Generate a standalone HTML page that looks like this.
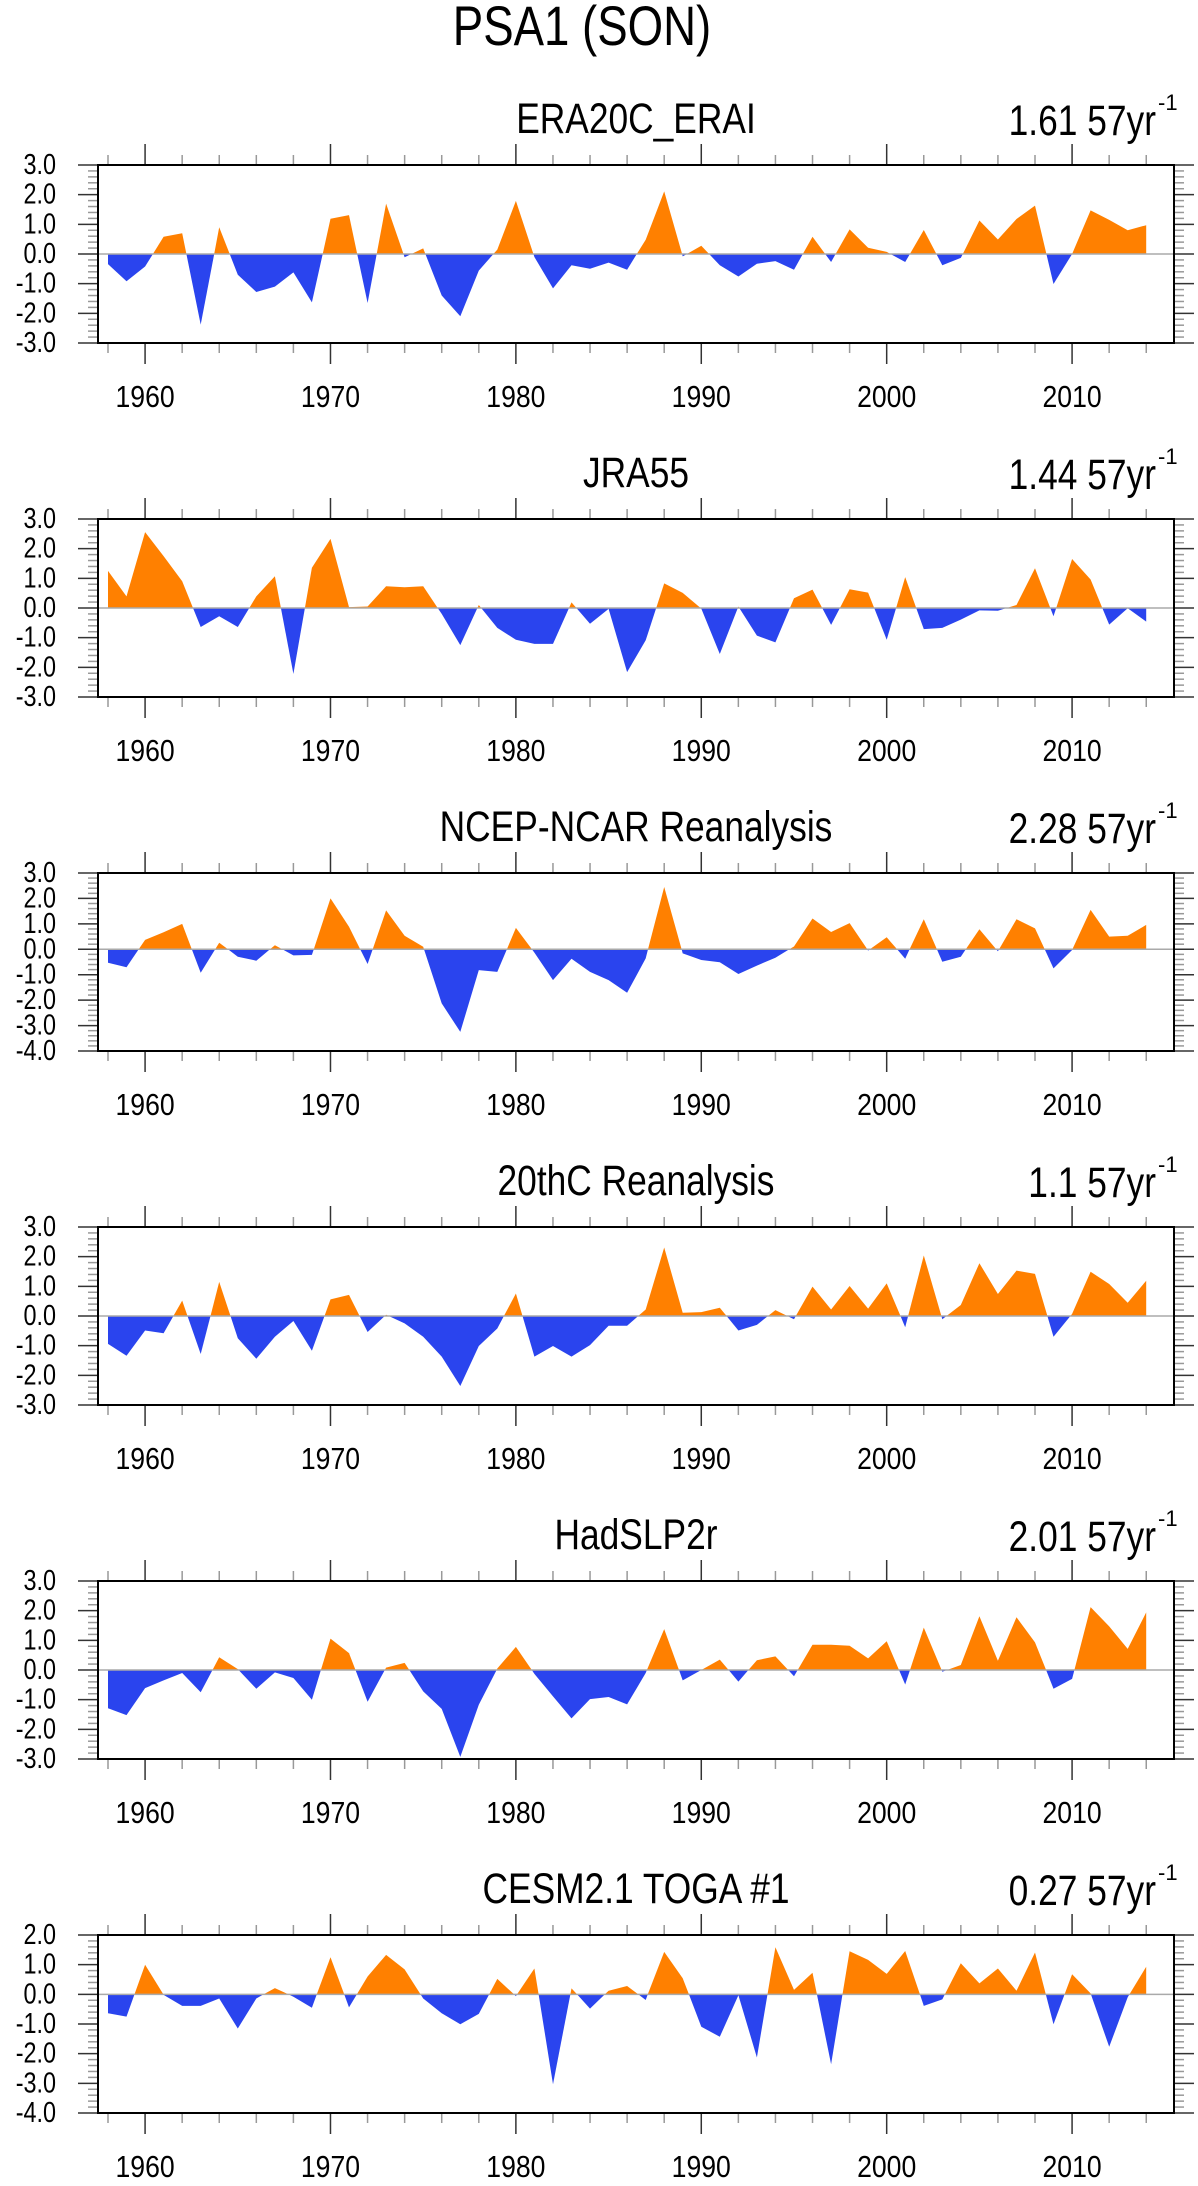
<!DOCTYPE html>
<html><head><meta charset="utf-8"><style>
html,body{margin:0;padding:0;background:#fff;}
svg{display:block;font-family:"Liberation Sans",Arial,sans-serif;}
</style></head><body>
<svg id="fig" width="1198" height="2186" viewBox="0 0 1198 2186" xmlns="http://www.w3.org/2000/svg">
<text x="582" y="45" font-size="48" text-anchor="middle" transform="translate(582,45) scale(0.95,1.15) translate(-582,-45)">PSA1 (SON)</text>
</svg>
<script>
const years = [];
for (let y = 1958; y <= 2014; y++) years.push(y);
const panelTitles = ["ERA20C_ERAI","JRA55","NCEP-NCAR Reanalysis","20thC Reanalysis","HadSLP2r","CESM2.1 TOGA #1"];
const trendLabels = ["1.61 57yr","1.44 57yr","2.28 57yr","1.1 57yr","2.01 57yr","0.27 57yr"];
const yMinVals = [-3,-3,-4,-3,-3,-4];
const yMaxVals = [3,3,3,3,3,2];
const yearTicks = [1960,1970,1980,1990,2000,2010];
const era20c = [-0.34,-0.92,-0.42,0.58,0.7,-2.38,0.9,-0.7,-1.28,-1.1,-0.62,-1.63,1.19,1.31,-1.65,1.7,-0.11,0.19,-1.4,-2.1,-0.56,0.15,1.79,-0.1,-1.16,-0.38,-0.5,-0.29,-0.53,0.48,2.11,-0.08,0.28,-0.38,-0.76,-0.33,-0.24,-0.53,0.58,-0.27,0.83,0.21,0.07,-0.27,0.81,-0.38,-0.13,1.13,0.49,1.18,1.63,-1.01,0.0,1.47,1.15,0.8,0.97];
const jra55 = [1.25,0.39,2.56,1.75,0.9,-0.64,-0.28,-0.64,0.39,1.07,-2.22,1.36,2.33,0.03,0.05,0.73,0.7,0.73,-0.2,-1.25,0.1,-0.67,-1.07,-1.21,-1.21,0.19,-0.53,-0.03,-2.16,-1.09,0.83,0.51,-0.02,-1.55,0.05,-0.93,-1.16,0.33,0.62,-0.57,0.63,0.52,-1.07,1.04,-0.71,-0.67,-0.39,-0.08,-0.09,0.1,1.34,-0.28,1.65,0.96,-0.56,-0.01,-0.46];
const ncep = [-0.53,-0.71,0.37,0.67,1.0,-0.92,0.26,-0.29,-0.45,0.16,-0.24,-0.22,2.0,0.89,-0.58,1.53,0.53,0.1,-2.13,-3.25,-0.82,-0.89,0.84,-0.13,-1.21,-0.37,-0.89,-1.21,-1.71,-0.36,2.45,-0.16,-0.42,-0.51,-0.97,-0.64,-0.33,0.11,1.21,0.68,1.03,-0.05,0.47,-0.37,1.18,-0.49,-0.29,0.79,-0.08,1.18,0.82,-0.75,-0.03,1.55,0.5,0.53,0.96];
const c20 = [-0.94,-1.34,-0.49,-0.58,0.52,-1.28,1.15,-0.75,-1.44,-0.7,-0.17,-1.17,0.56,0.71,-0.54,0.04,-0.25,-0.7,-1.37,-2.36,-1.01,-0.42,0.76,-1.37,-1.01,-1.37,-0.98,-0.33,-0.33,0.22,2.31,0.11,0.13,0.28,-0.49,-0.3,0.2,-0.11,0.99,0.22,1.01,0.25,1.1,-0.38,2.04,-0.11,0.37,1.78,0.74,1.53,1.42,-0.7,0.07,1.49,1.08,0.45,1.19];
const hadslp = [-1.29,-1.52,-0.61,-0.35,-0.1,-0.75,0.43,0.03,-0.63,-0.08,-0.27,-1.0,1.06,0.57,-1.07,0.08,0.24,-0.72,-1.31,-2.93,-1.17,0.05,0.78,-0.13,-0.89,-1.63,-0.98,-0.91,-1.16,-0.1,1.38,-0.35,0.0,0.35,-0.39,0.33,0.46,-0.21,0.85,0.85,0.82,0.39,0.97,-0.49,1.43,-0.06,0.17,1.81,0.31,1.78,0.93,-0.63,-0.3,2.12,1.47,0.71,1.94];
const cesm = [-0.64,-0.75,1.0,-0.02,-0.39,-0.39,-0.14,-1.15,-0.14,0.21,-0.08,-0.45,1.25,-0.44,0.6,1.33,0.84,-0.14,-0.64,-1.01,-0.66,0.52,-0.06,0.87,-3.03,0.2,-0.48,0.12,0.28,-0.19,1.43,0.54,-1.09,-1.43,-0.03,-2.13,1.59,0.15,0.73,-2.36,1.45,1.16,0.69,1.46,-0.39,-0.17,1.05,0.37,0.87,0.12,1.41,-1.01,0.68,0.03,-1.77,-0.1,0.93];
const seriesList = [era20c, jra55, ncep, c20, hadslp, cesm];

const NS = "http://www.w3.org/2000/svg";
const svg = document.getElementById("fig");
const X0 = 98, X1 = 1174, H = 178;
function xs(yr){ return 108 + (yr - 1958) * 18.54; }
function mk(tag, attrs, parent){
  const e = document.createElementNS(NS, tag);
  for (const k in attrs) e.setAttribute(k, attrs[k]);
  parent.appendChild(e);
  return e;
}
function stretch(x, y, sx, sy){ return "translate(" + x + "," + y + ") scale(" + sx + "," + sy + ") translate(" + (-x) + "," + (-y) + ")"; }
seriesList.forEach((data, p) => {
  const top = 165 + p * 354, bot = top + H;
  const ymin = yMinVals[p], ymax = yMaxVals[p];
  const ys = v => top + (ymax - v) / (ymax - ymin) * H;
  const g = mk("g", {}, svg);
  
  
  const t = mk("text", {x: 636, y: top - 32, "font-size": 38, "text-anchor": "middle", transform: stretch(636, top - 32, 0.93, 1.12)}, g);
  t.textContent = panelTitles[p];
  
  
  const tr = mk("text", {x: 1156, y: top - 30, "font-size": 38, "text-anchor": "end", transform: stretch(1156, top - 30, 0.93, 1.12)}, g);
  tr.textContent = trendLabels[p];
  
  
  const sup = mk("text", {x: 1158, y: top - 55, "font-size": 22}, g);
  sup.textContent = "-1";
  
  
  // fills
  const z = ys(0);
  const polys = [];
  let cur = null, curSign = null;
  for (let i = 0; i < data.length; i++){
    const v = data[i], x = xs(years[i]);
    const s = v >= 0 ? 1 : -1;
    if (cur === null){ cur = [[x, z]]; curSign = s; }
    else if (s !== curSign){
      const pv = data[i-1], px = xs(years[i-1]);
      const cx = (pv === v) ? x : px + (x - px) * (pv / (pv - v));
      cur.push([cx, z]);
      polys.push([cur, curSign]);
      cur = [[cx, z]]; curSign = s;
    }
    cur.push([x, ys(v)]);
  }
  cur.push([xs(years[years.length-1]), z]);
  polys.push([cur, curSign]);
  polys.forEach(([pts, s]) => {
    if (pts.length < 3) return;
    const pl = mk("polygon", {points: pts.map(q => q[0].toFixed(1) + "," + q[1].toFixed(1)).join(" "), fill: s > 0 ? "#ff8000" : "#2a44ee"}, g);
    
    
  });
  const zl = mk("line", {x1: X0, x2: X1, y1: z, y2: z, stroke: "#aaa", "stroke-width": 1.5}, g);
  
  
  // y ticks
  for (let k = Math.round(ymin * 5); k <= Math.round(ymax * 5); k++){
    const v = k / 5, yy = ys(v), major = (k % 5 === 0);
    const len = major ? 20 : 10, col = major ? "#333" : "#999";
    const l1 = mk("line", {x1: X0 - len, x2: X0, y1: yy, y2: yy, stroke: col, "stroke-width": 1.5}, g);
    
    
    const l2 = mk("line", {x1: X1, x2: X1 + len, y1: yy, y2: yy, stroke: col, "stroke-width": 1.5}, g);
    
    
    if (major){
      const tl = mk("text", {x: 56, y: yy + 9, "font-size": 26, "text-anchor": "end", transform: stretch(56, yy + 9, 0.9, 1.1)}, g);
      tl.textContent = v.toFixed(1);
      
      
    }
  }
  // x ticks
  for (let yr = 1958; yr <= 2014; yr += 2){
    const xx = xs(yr), major = (yr % 10 === 0);
    const len = major ? 21 : 10, col = major ? "#333" : "#999";
    const a = mk("line", {x1: xx, x2: xx, y1: top - len, y2: top, stroke: col, "stroke-width": 1.5}, g);
    
    
    const b = mk("line", {x1: xx, x2: xx, y1: bot, y2: bot + len, stroke: col, "stroke-width": 1.5}, g);
    
    
  }
  yearTicks.forEach(yr => {
    const tl = mk("text", {x: xs(yr), y: bot + 64, "font-size": 28, "text-anchor": "middle", transform: stretch(xs(yr), bot + 64, 0.95, 1.1)}, g);
    tl.textContent = String(yr);
    
    
  });
  const fr = mk("rect", {x: X0, y: top, width: X1 - X0, height: H, fill: "none", stroke: "#000", "stroke-width": 2}, g);
  
  
});
</script>
</body></html>
